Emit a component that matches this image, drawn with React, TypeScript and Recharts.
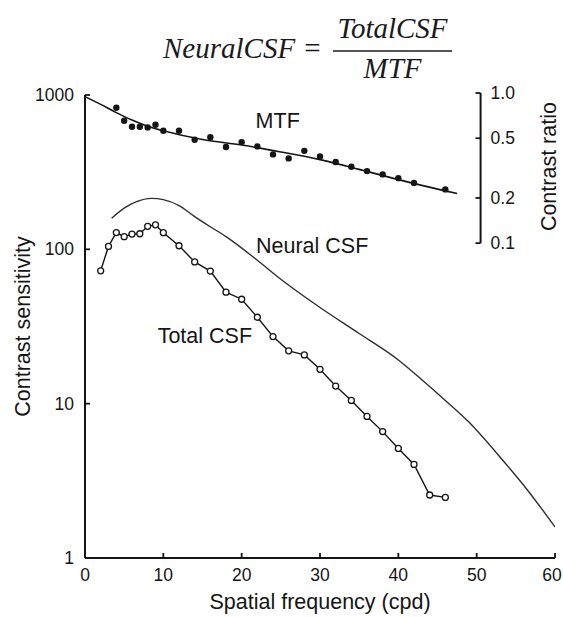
import {
  ComposedChart,
  Line,
  ReferenceDot,
  ReferenceLine,
  Scatter,
  XAxis,
  YAxis,
} from 'recharts';

// Total CSF (open circles), contrast sensitivity
const totalFreq = [2, 3, 4, 5, 6, 7, 8, 9, 10, 12, 14, 16, 18, 20, 22, 24, 26, 28, 30, 32, 34, 36, 38, 40, 42, 44, 46];
const totalSens = [72.6, 104.5, 128.5, 120.8, 125.6, 126.2, 141, 144.2, 128.2, 105.5, 82.9, 72.3, 52.8, 47.5, 36.3, 27.2, 22.0, 20.7, 16.7, 13.0, 10.5, 8.27, 6.59, 5.13, 4.04, 2.56, 2.47];

// Neural CSF (smooth curve)
const neuralFreq = [3.4, 5, 6.5, 8.5, 10, 12, 14, 16, 18, 22, 25, 30, 35, 40, 43, 46, 49, 53, 56.5, 60];
const neuralSens = [159, 185, 203, 214, 210, 192, 163, 140, 121, 85, 64, 42, 28.5, 19.2, 14.3, 10.5, 7.6, 4.5, 2.75, 1.59];

// MTF measurements (filled dots), contrast ratio
const mtfFreq = [4, 5, 6, 7, 8, 9, 10, 12, 14, 16, 18, 20, 22, 24, 26, 28, 30, 32, 34, 36, 38, 40, 42, 46];
const mtfRatio = [0.798, 0.654, 0.596, 0.596, 0.59, 0.615, 0.561, 0.561, 0.488, 0.507, 0.437, 0.471, 0.441, 0.39, 0.367, 0.412, 0.378, 0.347, 0.323, 0.302, 0.287, 0.271, 0.252, 0.228];

// MTF fitted line
const mtfFitFreq = [0, 2, 4, 6, 8, 10, 15, 20, 25, 30, 35, 40, 47.5];
const mtfFitRatio = [0.945, 0.84, 0.74, 0.66, 0.6, 0.56, 0.49, 0.45, 0.405, 0.36, 0.31, 0.265, 0.214];

const xTicks = [0, 10, 20, 30, 40, 50, 60];
const leftTicks = [1, 10, 100, 1000];
const rightTicks = [0.1, 0.2, 0.5, 1.0];
const rightTickLabels = ['0.1', '0.2', '0.5', '1.0'];

const totalData = totalFreq.map((x, i) => ({ x, v: totalSens[i] }));
const neuralData = neuralFreq.map((x, i) => ({ x, v: neuralSens[i] }));
const mtfData = mtfFreq.map((x, i) => ({ x, v: mtfRatio[i] }));
const mtfFitData = mtfFitFreq.map((x, i) => ({ x, v: mtfFitRatio[i] }));

const INK = '#151515';
const SANS = '"Liberation Sans", Arial, sans-serif';
const SERIF = '"Liberation Serif", "Times New Roman", serif';
const RIGHT_AXIS_X = 50.5;

const XTick = (props: any) => {
  const { x, y, payload } = props;
  // keep the last label inside the page edge
  const tx = Math.min(x, 552);
  return (
    <g>
      <line x1={x} y1={y} x2={x} y2={y - 5} stroke={INK} strokeWidth={1.8} />
      <text x={tx} y={y + 23} textAnchor="middle" fontSize={17.5} fontFamily={SANS} fill={INK}>
        {payload.value}
      </text>
    </g>
  );
};

const YTick = (props: any) => {
  const { x, y, payload } = props;
  return (
    <g>
      <line x1={x} y1={y} x2={x + 5} y2={y} stroke={INK} strokeWidth={1.8} />
      <text x={x - 11} y={y + 6} textAnchor="end" fontSize={17.5} fontFamily={SANS} fill={INK}>
        {payload.value}
      </text>
    </g>
  );
};

const rotatedTitle = (text: string, dx: number) => (p: any) => {
  const vb = p.viewBox;
  const cx = vb.x + dx;
  const cy = vb.y + (vb.height || 0) / 2;
  return (
    <text
      x={cx}
      y={cy}
      transform={`rotate(-90 ${cx} ${cy})`}
      textAnchor="middle"
      dominantBaseline="central"
      fontSize={21.5}
      fontFamily={SANS}
      fill={INK}
    >
      {text}
    </text>
  );
};

const App = () => {
  return (
    <div style={{ position: 'absolute', left: 0, top: 0, width: 563, height: 617, fontFamily: SANS }}>
      <ComposedChart width={563} height={617} margin={{ top: 95, right: 8, bottom: 58, left: 84 }}>
        <XAxis
          type="number"
          dataKey="x"
          domain={[0, 60]}
          ticks={xTicks}
          interval={0}
          allowDataOverflow
          height={1}
          tickSize={0}
          tickMargin={0}
          tickLine={false}
          tick={XTick}
          axisLine={{ stroke: INK, strokeWidth: 2 }}
          label={{ value: 'Spatial frequency (cpd)', position: 'bottom', offset: 35, fontSize: 21.5, fill: INK, fontFamily: SANS }}
        />
        <YAxis
          yAxisId="left"
          scale="log"
          domain={[1, 1000]}
          ticks={leftTicks}
          interval={0}
          allowDataOverflow
          width={1}
          tickSize={0}
          tickMargin={0}
          tickLine={false}
          tick={YTick}
          axisLine={{ stroke: INK, strokeWidth: 2 }}
          label={{ content: rotatedTitle('Contrast sensitivity', -61) }}
        />
        <YAxis yAxisId="right" hide scale="log" domain={[0.0008, 0.97]} allowDataOverflow />

        {/* contrast ratio axis drawn inside the plot */}
        <ReferenceLine
          yAxisId="right"
          ifOverflow="visible"
          segment={[{ x: RIGHT_AXIS_X, y: 0.1 }, { x: RIGHT_AXIS_X, y: 1.0 }]}
          stroke={INK}
          strokeWidth={2}
        />
        {rightTicks.map((t) => (
          <ReferenceLine
            key={'rt' + t}
            yAxisId="right"
            ifOverflow="visible"
            segment={[{ x: RIGHT_AXIS_X - 0.65, y: t }, { x: RIGHT_AXIS_X, y: t }]}
            stroke={INK}
            strokeWidth={1.8}
          />
        ))}
        {rightTicks.map((t, i) => (
          <ReferenceDot
            key={'rl' + t}
            yAxisId="right"
            ifOverflow="visible"
            x={RIGHT_AXIS_X}
            y={t}
            r={0}
            stroke="none"
            label={{ value: rightTickLabels[i], position: 'right', offset: 10, fontSize: 17.5, fill: INK, fontFamily: SANS }}
          />
        ))}
        <ReferenceDot
          yAxisId="right"
          x={RIGHT_AXIS_X}
          y={0.3236}
          r={0}
          stroke="none"
          label={{ content: rotatedTitle('Contrast ratio', 68) }}
        />

        <Line
          yAxisId="right"
          data={mtfFitData}
          dataKey="v"
          type="monotone"
          stroke={INK}
          strokeWidth={1.6}
          dot={false}
          activeDot={false}
          isAnimationActive={false}
        />
        <Scatter
          yAxisId="right"
          data={mtfData}
          dataKey="v"
          isAnimationActive={false}
          shape={(p: any) => <circle cx={p.cx} cy={p.cy} r={3.2} fill={INK} />}
        />
        <Line
          yAxisId="left"
          data={neuralData}
          dataKey="v"
          type="monotone"
          stroke="#2e2e2e"
          strokeWidth={1.4}
          dot={false}
          activeDot={false}
          isAnimationActive={false}
        />
        <Line
          yAxisId="left"
          data={totalData}
          dataKey="v"
          type="linear"
          stroke={INK}
          strokeWidth={1.4}
          dot={{ r: 3, fill: '#fff', stroke: INK, strokeWidth: 1.3 }}
          activeDot={false}
          isAnimationActive={false}
        />

        <ReferenceDot yAxisId="left" x={24.6} y={689} r={0} stroke="none"
          label={{ value: 'MTF', position: 'center', fontSize: 21.5, fill: INK, fontFamily: SANS }} />
        <ReferenceDot yAxisId="left" x={29} y={106.7} r={0} stroke="none"
          label={{ value: 'Neural CSF', position: 'center', fontSize: 21.5, fill: INK, fontFamily: SANS }} />
        <ReferenceDot yAxisId="left" x={15.3} y={27.9} r={0} stroke="none"
          label={{ value: 'Total CSF', position: 'center', fontSize: 21.5, fill: INK, fontFamily: SANS }} />
      </ComposedChart>

      <svg width={563} height={90} style={{ position: 'absolute', left: 0, top: 0, pointerEvents: 'none' }}>
        <text x={163} y={58} fontFamily={SERIF} fontStyle="italic" fontSize={29} fill="#1a1a22">NeuralCSF</text>
        <text x={312.5} y={58} textAnchor="middle" fontFamily={SERIF} fontSize={29} fill="#1a1a22">=</text>
        <text x={392.5} y={38} textAnchor="middle" fontFamily={SERIF} fontStyle="italic" fontSize={29} fill="#1a1a22">TotalCSF</text>
        <line x1={333} y1={51} x2={452} y2={51} stroke="#1a1a22" strokeWidth={1.6} />
        <text x={392.5} y={78} textAnchor="middle" fontFamily={SERIF} fontStyle="italic" fontSize={29} fill="#1a1a22">MTF</text>
      </svg>
    </div>
  );
};

export default App;
